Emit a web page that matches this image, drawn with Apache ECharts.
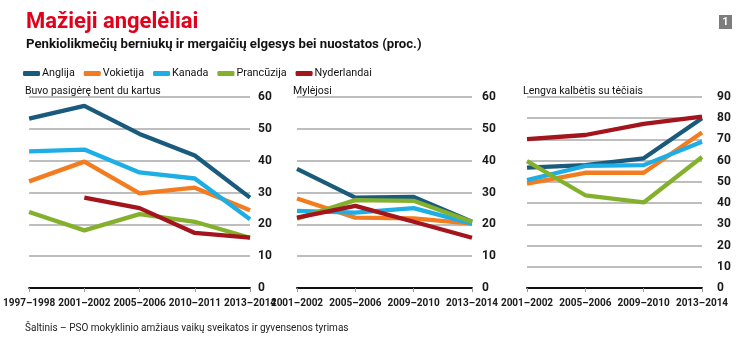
<!DOCTYPE html>
<html>
<head>
<meta charset="utf-8">
<script src="https://cdn.jsdelivr.net/npm/echarts@6/dist/echarts.min.js"></script>
<style>
  html, body { margin: 0; padding: 0; background: #fff; }
  #chart { width: 750px; height: 339px; }
</style>
</head>
<body>
<div id="chart"></div>
<script>
// Survey periods for each panel
const yearsDrink = ['1997–1998', '2001–2002', '2005–2006', '2010–2011', '2013–2014'];
const yearsSex = ['2001–2002', '2005–2006', '2009–2010', '2013–2014'];
const yearsTalk = ['2001–2002', '2005–2006', '2009–2010', '2013–2014'];

const countries = ['Anglija', 'Vokietija', 'Kanada', 'Prancūzija', 'Nyderlandai'];
const colors = ['#1a5b7d', '#f47c20', '#1eaee6', '#84b12d', '#a3141c'];

// "Buvo pasigėrę bent du kartus" (%)
const drinkAnglija = [53.2, 57.2, 48.4, 41.6, 28.4];
const drinkVokietija = [33.5, 39.7, 29.7, 31.5, 24.4];
const drinkKanada = [42.9, 43.5, 36.3, 34.4, 21.6];
const drinkPrancuzija = [23.9, 18.1, 23.2, 20.8, 15.8];
const drinkNyderlandai = [null, 28.4, 25.1, 17.3, 15.8];

// "Mylėjosi" (%)
const sexAnglija = [37.4, 28.4, 28.6, 20.8];
const sexVokietija = [28.1, 22.1, 21.9, 20.2];
const sexKanada = [24.2, 23.7, 25.1, 20.2];
const sexPrancuzija = [21.8, 27.6, 27.4, 20.8];
const sexNyderlandai = [22.1, 25.8, 20.8, 15.8];

// "Lengva kalbėtis su tėčiais" (%)
const talkAnglija = [56.7, 57.9, 61.1, 80.0];
const talkVokietija = [49.2, 54.3, 54.3, 73.3];
const talkKanada = [50.8, 57.5, 57.9, 68.9];
const talkPrancuzija = [59.8, 43.7, 40.3, 61.7];
const talkNyderlandai = [70.2, 72.1, 77.3, 80.8];

// Y-axis scales
const yMaxDrink = 60, yMaxSex = 60, yMaxTalk = 90, yStep = 10;

const panelData = [
  [drinkAnglija, drinkVokietija, drinkKanada, drinkPrancuzija, drinkNyderlandai],
  [sexAnglija, sexVokietija, sexKanada, sexPrancuzija, sexNyderlandai],
  [talkAnglija, talkVokietija, talkKanada, talkPrancuzija, talkNyderlandai]
];
const panelCats = [yearsDrink, yearsSex, yearsTalk];
const panelMax = [yMaxDrink, yMaxSex, yMaxTalk];

const FONT = 'Roboto, "Liberation Sans", sans-serif';

const grids = [
  { left: 27, top: 97, width: 223, height: 191 },
  { left: 297, top: 97, width: 175, height: 191 },
  { left: 527, top: 97, width: 175, height: 191 }
];
const labelMargins = [8, 10, 15];

const xAxes = panelCats.map((cats, i) => ({
  type: 'category',
  gridIndex: i,
  data: cats,
  boundaryGap: false,
  axisLine: { show: true, lineStyle: { color: '#111', width: 2 } },
  axisTick: { show: true, alignWithLabel: true, length: 4, lineStyle: { color: '#999', width: 1 } },
  axisLabel: {
    color: '#1a1a1a', fontFamily: FONT, fontWeight: 'bold', fontSize: 10,
    margin: 10, interval: 0
  },
  splitLine: { show: false }
}));

const yAxes = panelMax.map((mx, i) => ({
  type: 'value',
  gridIndex: i,
  position: 'right',
  min: 0,
  max: mx,
  interval: yStep,
  axisLine: { show: false },
  axisTick: { show: false },
  axisLabel: {
    color: '#1a1a1a', fontFamily: FONT, fontWeight: 'bold', fontSize: 12,
    margin: labelMargins[i]
  },
  splitLine: { show: true, lineStyle: { color: '#a8a8a8', width: 1.5 } }
}));

const series = [];
panelData.forEach((group, p) => {
  group.forEach((vals, c) => {
    series.push({
      name: countries[c],
      type: 'line',
      xAxisIndex: p,
      yAxisIndex: p,
      data: vals,
      symbol: 'none',
      connectNulls: false,
      lineStyle: { width: 4.3, color: colors[c] },
      itemStyle: { color: colors[c] },
      emphasis: { disabled: true },
      z: 3 + c
    });
  });
});

const chart = echarts.init(document.getElementById('chart'), null, { renderer: 'canvas' });
chart.setOption({
  animation: false,
  backgroundColor: '#ffffff',
  color: colors,
  title: [
    { text: 'Mažieji angelėliai', left: 21, top: 6,
      textStyle: { color: '#e2001a', fontFamily: FONT, fontWeight: 'bold', fontSize: 22 } },
    { text: 'Penkiolikmečių berniukų ir mergaičių elgesys bei nuostatos (proc.)', left: 21, top: 33,
      textStyle: { color: '#111', fontFamily: FONT, fontWeight: 'bold', fontSize: 13.2 } },
    { text: 'Buvo pasigėrę bent du kartus', left: 20, top: 81,
      textStyle: { color: '#111', fontFamily: FONT, fontWeight: 'normal', fontSize: 10.5 } },
    { text: 'Mylėjosi', left: 288, top: 81,
      textStyle: { color: '#111', fontFamily: FONT, fontWeight: 'normal', fontSize: 10.5 } },
    { text: 'Lengva kalbėtis su tėčiais', left: 518, top: 81,
      textStyle: { color: '#111', fontFamily: FONT, fontWeight: 'normal', fontSize: 10.5 } },
    { text: 'Šaltinis – PSO mokyklinio amžiaus vaikų sveikatos ir gyvensenos tyrimas', left: 20, top: 318,
      textStyle: { color: '#222', fontFamily: FONT, fontWeight: 'normal', fontSize: 10 } }
  ],
  legend: {
    data: countries,
    left: 18,
    top: 63,
    icon: 'roundRect',
    itemWidth: 17,
    itemHeight: 5,
    itemGap: 9,
    textStyle: { color: '#111', fontFamily: FONT, fontSize: 10.8, padding: [0, 0, 0, -3] }
  },
  grid: grids,
  xAxis: xAxes,
  yAxis: yAxes,
  series: series,
  graphic: [
    {
      type: 'group', left: 719, top: 15,
      children: [
        { type: 'rect', shape: { x: 0, y: 0, width: 13, height: 14 }, style: { fill: '#7d7d7d' } },
        { type: 'text', x: 6.5, y: 7, style: { text: '1', fill: '#fff', font: 'bold 11px ' + FONT, align: 'center', verticalAlign: 'middle' } }
      ]
    }
  ]
});
</script>
</body>
</html>
